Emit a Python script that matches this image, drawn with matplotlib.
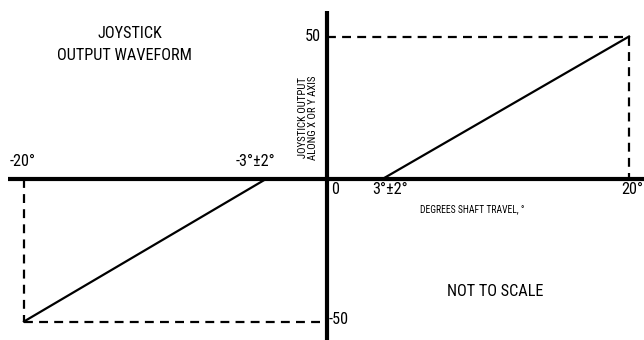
import matplotlib
matplotlib.use("Agg")
import matplotlib.pyplot as plt
from matplotlib import font_manager as fm

names = {f.name for f in fm.fontManager.ttflist}

# Data (diagram is "not to scale"; positions)
x_right = [3.7, 20]
y_right = [0, 50]
x_left = [-20, -4.0]
y_left = [-50, 0]
full_travel = 20
full_output = 50

pref = ["Liberation Sans Narrow", "Roboto Condensed", "Open Sans Condensed", "Roboto"]
main_font = next((n for n in pref if n in names), "DejaVu Sans")
FAM = [main_font, "DejaVu Sans"]

W, H = 644, 340
fig = plt.figure(figsize=(W / 100, H / 100), dpi=100)
ax = fig.add_axes([0, 0, 1, 1])
ax.axis("off")

px_x0, px_y0 = 326.5, 179.0
sx = (629 - px_x0) / 20.0
sy = (179 - 36.5) / 50.0
ax.set_xlim(-px_x0 / sx, (W - px_x0) / sx)
ax.set_ylim(-(H - px_y0) / sy, px_y0 / sy)

def X(px):
    return (px - px_x0) / sx

def Y(py):
    return (px_y0 - py) / sy

# axes
ax.plot([X(8), X(W)], [0, 0], color="black", lw=3.0, solid_capstyle="butt")
ax.plot([0, 0], [Y(11), Y(H)], color="black", lw=3.0, solid_capstyle="butt")

# output lines
ax.plot(x_right, y_right, color="black", lw=1.6)
ax.plot(x_left, y_left, color="black", lw=1.6)

# dashed guides
dash = dict(color="black", lw=1.6, dashes=(4.0, 2.8))
ax.plot([0, full_travel], [full_output, full_output], **dash)
ax.plot([full_travel, full_travel], [full_output, 0], **dash)
ax.plot([-full_travel, -full_travel], [0, -full_output], **dash)
ax.plot([-full_travel, 0], [-full_output, -full_output], **dash)

tk = dict(family=FAM, fontsize=12, color="black")
big = []
big.append(ax.text(X(130), Y(33), "JOYSTICK", ha="center", va="center", **tk))
ref_big = ax.text(X(124), Y(56), "OUTPUT WAVEFORM", ha="center", va="center", **tk)
big.append(ref_big)
big.append(ax.text(X(321), Y(36.5), "50", ha="right", va="center", **tk))
big.append(ax.text(X(10), Y(161), "-20°", ha="left", va="center", **tk))
big.append(ax.text(X(255), Y(161), "-3°±2°", ha="center", va="center", **tk))
big.append(ax.text(X(331), Y(189), "0", ha="left", va="center", **tk))
big.append(ax.text(X(390), Y(189), "3°±2°", ha="center", va="center", **tk))
big.append(ax.text(X(643), Y(189), "20°", ha="right", va="center", **tk))
big.append(ax.text(X(328.5), Y(319), "-50", ha="left", va="center", **tk))
big.append(ax.text(X(495), Y(292), "NOT TO SCALE", ha="center", va="center", **tk))
small = ax.text(X(472), Y(209), "DEGREES SHAFT TRAVEL, °", ha="center", va="center",
                family=FAM, fontsize=7, color="black")
rot = ax.text(X(308), Y(118), "JOYSTICK OUTPUT\nALONG X OR Y AXIS", ha="center", va="center",
              rotation=90, family=FAM, fontsize=7, color="black", linespacing=1.0)

# fit font sizes to the widths seen in the reference
fig.canvas.draw()
r = fig.canvas.get_renderer()
w = ref_big.get_window_extent(r).width
s_big = 12 * 134.0 / w
for t in big:
    t.set_fontsize(s_big)
w = small.get_window_extent(r).width
small.set_fontsize(7 * 105.0 / w)
h = rot.get_window_extent(r).height
rot.set_fontsize(7 * 85.0 / h)

fig.savefig("out.png", dpi=100)
